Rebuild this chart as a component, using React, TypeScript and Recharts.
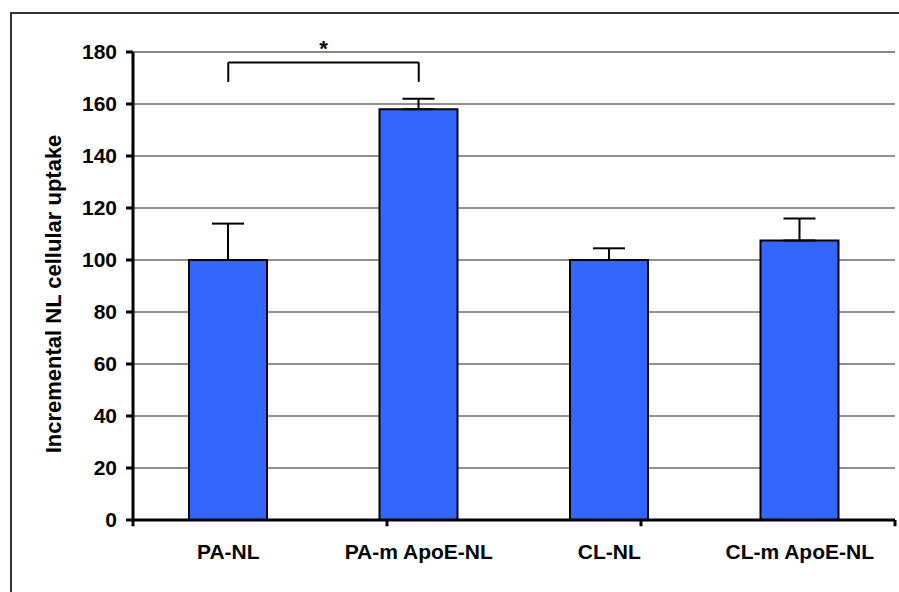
import React from "react";
import {
  BarChart,
  Bar,
  XAxis,
  YAxis,
  CartesianGrid,
  ErrorBar,
  ReferenceLine,
} from "recharts";

// Uptake per formulation, with the upper SD drawn as error bars
const groups = ["PA-NL", "PA-m ApoE-NL", "CL-NL", "CL-m ApoE-NL"];
const uptake = [100, 158, 100, 107.5];
const uptakeSd = [14, 4, 4.5, 8.5];
const yTicks = [0, 20, 40, 60, 80, 100, 120, 140, 160, 180];
const edgeTicks = [0, 1, 2, 3, 4];

// significance bracket between the first two groups
const bracketTop = 176;
const bracketFoot = 168.5;

const data = groups.map((g, i) => ({
  group: g,
  value: uptake[i],
  err: [0, uptakeSd[i]],
}));

const FONT = "'Liberation Sans', Arial, sans-serif";

export default function App() {
  return (
    <div
      style={{
        position: "fixed",
        left: 0,
        top: 0,
        width: 899,
        height: 592,
        overflow: "hidden",
        background: "#fff",
        fontFamily: FONT,
      }}
    >
      <div
        style={{
          position: "absolute",
          left: 10,
          top: 12,
          width: 950,
          height: 650,
          border: "2px solid #333",
        }}
      />
      <div style={{ position: "absolute", left: 0, top: 0 }}>
        <BarChart
          width={899}
          height={592}
          data={data}
          margin={{ top: 52, right: 4, bottom: 0, left: 0 }}
          barSize={78}
        >
          <CartesianGrid vertical={false} stroke="#222" strokeWidth={1} />
          <XAxis
            dataKey="group"
            height={72}
            axisLine={{ stroke: "#000", strokeWidth: 3 }}
            tickLine={false}
            tickSize={0}
            tickMargin={24}
            interval={0}
            tick={{ fill: "#000", fontSize: 21, fontWeight: 700, fontFamily: FONT }}
          />
          {/* numeric twin of the category axis, used for the group boundaries */}
          <XAxis
            xAxisId="edges"
            type="number"
            domain={[0, 4]}
            ticks={edgeTicks}
            allowDataOverflow
            hide
          />
          <YAxis
            domain={[0, 180]}
            ticks={yTicks}
            width={133}
            interval={0}
            axisLine={{ stroke: "#000", strokeWidth: 3 }}
            tickLine={{ stroke: "#000", strokeWidth: 3 }}
            tickSize={7}
            tickMargin={9}
            tick={{ fill: "#000", fontSize: 21, fontWeight: 700, fontFamily: FONT }}
            label={{
              value: "Incremental NL cellular uptake",
              angle: -90,
              position: "center",
              dx: -13,
              dy: 8,
              style: {
                fill: "#000",
                fontSize: 22,
                fontWeight: 700,
                fontFamily: FONT,
                textAnchor: "middle",
              },
            }}
          />
          <ReferenceLine y={180} stroke="#888" strokeWidth={2} />
          <ReferenceLine xAxisId="edges" x={4} stroke="#888" strokeWidth={2} />
          {edgeTicks.map((t) => (
            <ReferenceLine
              key={t}
              xAxisId="edges"
              segment={[
                { x: t, y: 0 },
                { x: t, y: -2.4 },
              ]}
              stroke="#000"
              strokeWidth={3}
              ifOverflow="visible"
            />
          ))}
          <Bar
            dataKey="value"
            fill="#3366FF"
            stroke="#000"
            strokeWidth={2}
            isAnimationActive={false}
          >
            <ErrorBar
              dataKey="err"
              width={16}
              stroke="#000"
              strokeWidth={2}
              isAnimationActive={false}
            />
          </Bar>
          <ReferenceLine
            segment={[
              { x: groups[0], y: bracketTop },
              { x: groups[1], y: bracketTop },
            ]}
            stroke="#000"
            strokeWidth={2}
            ifOverflow="visible"
            label={{
              value: "*",
              position: "top",
              offset: 6,
              style: { fill: "#000", fontSize: 22, fontWeight: 700, fontFamily: FONT },
            }}
          />
          <ReferenceLine
            segment={[
              { x: groups[0], y: bracketTop },
              { x: groups[0], y: bracketFoot },
            ]}
            stroke="#000"
            strokeWidth={2}
          />
          <ReferenceLine
            segment={[
              { x: groups[1], y: bracketTop },
              { x: groups[1], y: bracketFoot },
            ]}
            stroke="#000"
            strokeWidth={2}
          />
        </BarChart>
      </div>
    </div>
  );
}
